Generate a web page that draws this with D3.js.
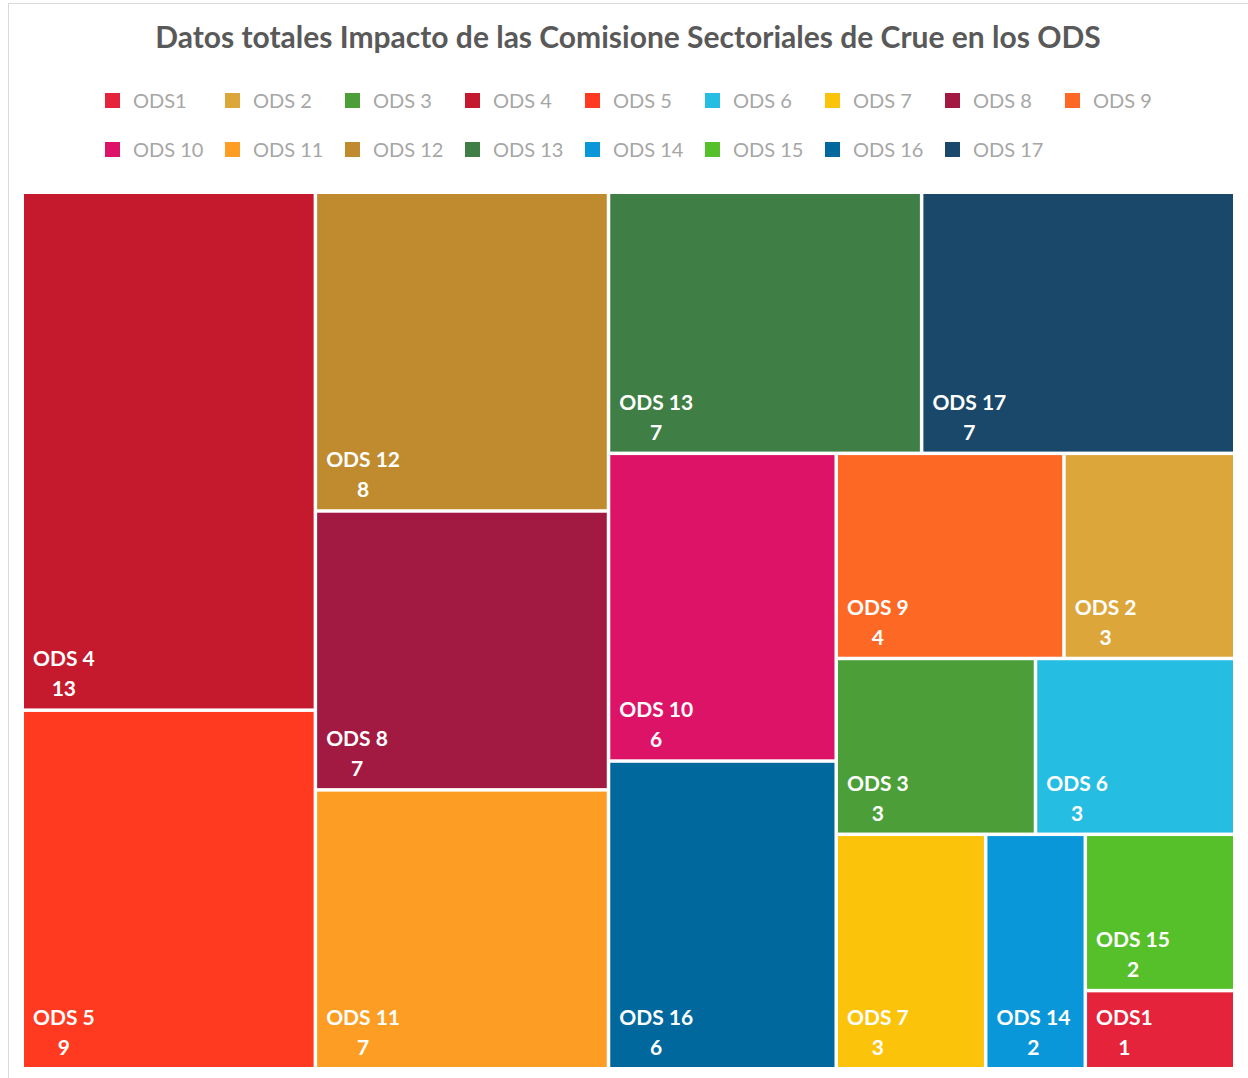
<!DOCTYPE html>
<html>
<head>
<meta charset="utf-8">
<script src="https://cdn.jsdelivr.net/npm/d3@7"></script>
<style>
  html, body { margin: 0; padding: 0; background: #fff; }
  svg { display: block; font-family: Lato, "Open Sans", sans-serif; }
</style>
</head>
<body>
<svg id="chart" width="1248" height="1078"></svg>
<script>
  // categories in legend order, with values and SDG colours
  var categories = ['ODS1', 'ODS 2', 'ODS 3', 'ODS 4', 'ODS 5', 'ODS 6', 'ODS 7', 'ODS 8', 'ODS 9',
    'ODS 10', 'ODS 11', 'ODS 12', 'ODS 13', 'ODS 14', 'ODS 15', 'ODS 16', 'ODS 17'];
  var values = [1, 3, 3, 13, 9, 3, 3, 7, 4, 6, 7, 8, 7, 2, 2, 6, 7];
  var colors = ['#e5243b', '#dda63a', '#4c9f38', '#c5192d', '#ff3a21', '#26bde2', '#fcc30b', '#a21942',
    '#fd6925', '#dd1367', '#fd9d24', '#bf8b2e', '#3f7e44', '#0a97d9', '#56c02b', '#00689d', '#19486a'];
  // order in which the treemap places tiles with equal values
  var tileOrder = ['ODS 4', 'ODS 5', 'ODS 12', 'ODS 8', 'ODS 11', 'ODS 13', 'ODS 17', 'ODS 10', 'ODS 16',
    'ODS 9', 'ODS 2', 'ODS 3', 'ODS 6', 'ODS 7', 'ODS 14', 'ODS 15', 'ODS1'];

  var title = 'Datos totales Impacto de las Comisione Sectoriales de Crue en los ODS';

  var svg = d3.select('#chart');
  var W = 1248, H = 1078;
  var plot = { x0: 24, y0: 194, x1: 1233, y1: 1067 };

  var color = d3.scaleOrdinal().domain(categories).range(colors);

  // squarified tiling like d3's, but allowing a target ratio below 1
  // (Excel closes its strips a bit earlier than d3 does)
  function squarifyTile(ratio) {
    return function (parent, x0, y0, x1, y1) {
      var nodes = parent.children, n = nodes.length;
      var i0 = 0, i1 = 0, value = parent.value;
      while (i0 < n) {
        var dx = x1 - x0, dy = y1 - y0;
        var sumValue = nodes[i1++].value;
        var minValue = sumValue, maxValue = sumValue;
        var alpha = Math.max(dy / dx, dx / dy) / (value * ratio);
        var beta = sumValue * sumValue * alpha;
        var minRatio = Math.max(maxValue / beta, beta / minValue);
        for (; i1 < n; ++i1) {
          var nodeValue = nodes[i1].value;
          sumValue += nodeValue;
          if (nodeValue < minValue) minValue = nodeValue;
          if (nodeValue > maxValue) maxValue = nodeValue;
          beta = sumValue * sumValue * alpha;
          var newRatio = Math.max(maxValue / beta, beta / minValue);
          if (newRatio > minRatio) { sumValue -= nodeValue; break; }
          minRatio = newRatio;
        }
        var row = { value: sumValue, children: nodes.slice(i0, i1) };
        if (dx < dy) {
          d3.treemapDice(row, x0, y0, x1, value ? (y0 += dy * sumValue / value) : y1);
        } else {
          d3.treemapSlice(row, x0, y0, value ? (x0 += dx * sumValue / value) : x1, y1);
        }
        value -= sumValue;
        i0 = i1;
      }
    };
  }

  // chart frame
  svg.append('rect')
    .attr('x', 8.5).attr('y', 3.5)
    .attr('width', W + 10).attr('height', H + 10)
    .attr('fill', '#fff')
    .attr('stroke', '#d9d9d9');

  // title
  svg.append('text')
    .attr('x', 628).attr('y', 48)
    .attr('text-anchor', 'middle')
    .style('font-size', '30px')
    .style('font-weight', 'bold')
    .style('fill', '#595959')
    .text(title);

  // legend, two rows of 9 and 8
  var legend = svg.append('g');
  categories.forEach(function (c, i) {
    var row = i < 9 ? 0 : 1;
    var col = i < 9 ? i : i - 9;
    var lx = 105 + col * 120;
    var ly = 93 + row * 49;
    legend.append('rect')
      .attr('x', lx).attr('y', ly)
      .attr('width', 15).attr('height', 15)
      .attr('fill', color(c));
    legend.append('text')
      .attr('x', lx + 28).attr('y', ly + 15)
      .style('font-size', '20px')
      .style('fill', '#a6a6a6')
      .text(c);
  });

  // treemap
  var leaves = tileOrder.map(function (c) {
    return { name: c, value: values[categories.indexOf(c)] };
  });
  var root = d3.hierarchy({ children: leaves })
    .sum(function (d) { return d.value || 0; })
    .sort(function (a, b) { return b.value - a.value; });

  d3.treemap()
    .tile(squarifyTile(0.75))
    .size([plot.x1 - plot.x0, plot.y1 - plot.y0])
    .paddingInner(3.5)
    .round(false)(root);

  var cells = svg.append('g')
    .attr('transform', 'translate(' + plot.x0 + ',' + plot.y0 + ')')
    .selectAll('g')
    .data(root.leaves())
    .enter()
    .append('g')
    .attr('transform', function (d) { return 'translate(' + d.x0 + ',' + d.y0 + ')'; });

  cells.append('rect')
    .attr('width', function (d) { return d.x1 - d.x0; })
    .attr('height', function (d) { return d.y1 - d.y0; })
    .attr('fill', function (d) { return color(d.data.name); });

  cells.each(function (d) {
    var g = d3.select(this);
    var h = d.y1 - d.y0;
    var name = g.append('text')
      .attr('x', 9).attr('y', h - 42)
      .style('font-size', '21px')
      .style('font-weight', 'bold')
      .style('fill', '#fff')
      .text(d.data.name);
    var w = name.node().getComputedTextLength();
    g.append('text')
      .attr('x', 9 + w / 2).attr('y', h - 12)
      .attr('text-anchor', 'middle')
      .style('font-size', '21px')
      .style('font-weight', 'bold')
      .style('fill', '#fff')
      .text(d.data.value);
  });
</script>
</body>
</html>
